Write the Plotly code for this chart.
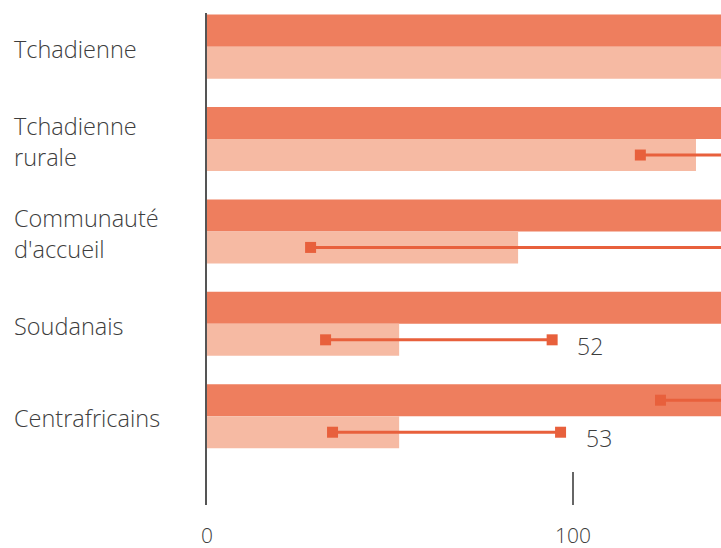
import plotly.graph_objects as go

categories = ["Tchadienne", "Tchadienne<br>rurale", "Communauté<br>d'accueil", "Soudanais", "Centrafricains"]
dark_values = [150, 150, 150, 150, 150]
light_values = [150, 133.6, 85.0, 52.5, 52.5]

# range segments (start, end) drawn on the light bar row, None when absent
light_ranges = [None, (118.4, 160), (28.3, 160), (32.4, 94.3), (34.3, 96.6)]
# range segments drawn on the dark bar row
dark_ranges = [None, None, None, None, (123.9, 160)]
range_labels = [None, None, None, "52", "53"]

DARK = "#EE7E5E"
LIGHT = "#F6BAA3"
ACCENT = "#E8603C"
TEXT = "#3d3d3d"
FONT = "Open Sans"

bargap = 0.307
half = (1 - bargap) / 4  # offset of each bar centre from category centre

ypos = list(range(len(categories)))

fig = go.Figure()
fig.add_trace(go.Bar(y=ypos, x=dark_values, orientation="h", marker_color=DARK,
                     marker_line_width=0, showlegend=False))
fig.add_trace(go.Bar(y=ypos, x=light_values, orientation="h", marker_color=LIGHT,
                     marker_line_width=0, showlegend=False))

def add_ranges(ranges, offset):
    for i, r in enumerate(ranges):
        if r is None:
            continue
        fig.add_trace(go.Scatter(x=[r[0], r[1]], y=[i + offset, i + offset],
                                 mode="lines+markers",
                                 line=dict(color=ACCENT, width=3),
                                 marker=dict(symbol="square", size=11, color=ACCENT),
                                 showlegend=False, hoverinfo="skip"))

add_ranges(light_ranges, half)
add_ranges(dark_ranges, -half)

annotations = []
for i, (r, lab) in enumerate(zip(light_ranges, range_labels)):
    if lab is None or r is None:
        continue
    annotations.append(dict(x=r[1], y=i + half, xref="x", yref="y", text=lab,
                            showarrow=False, xanchor="left", yanchor="middle",
                            xshift=23, yshift=-6,
                            font=dict(family=FONT, size=23, color=TEXT, weight=300)))

for i, c in enumerate(categories):
    annotations.append(dict(x=-195 / 514, y=i, xref="paper", yref="y", text=c,
                            showarrow=False, xanchor="left", yanchor="middle", align="left",
                            yshift=-2,
                            font=dict(family=FONT, size=23.5, color=TEXT, weight=300)))

fig.update_layout(
    width=721, height=548,
    margin=dict(l=207, r=0, t=13, b=43),
    paper_bgcolor="white", plot_bgcolor="white",
    barmode="group", bargap=bargap, bargroupgap=0,
    annotations=annotations,
    font=dict(family=FONT, color=TEXT),
    xaxis=dict(range=[0, 514 / 3.66], tickvals=[0, 100], ticktext=["0", "100"],
               ticks="inside", ticklen=33, tickwidth=2, tickcolor="#666666",
               showgrid=False, zeroline=False, showline=False,
               ticklabelstandoff=16, automargin=False,
               tickfont=dict(family=FONT, size=21, color=TEXT, weight=300)),
    yaxis=dict(range=[4.961, -0.364], showticklabels=False, ticks="",
               showgrid=False, zeroline=False, showline=True, automargin=False,
               linecolor="#555555", linewidth=2),
)

fig.write_html("out.html", config={"displayModeBar": False},
               post_script="document.body.style.margin='0';document.body.style.overflow='hidden';")
